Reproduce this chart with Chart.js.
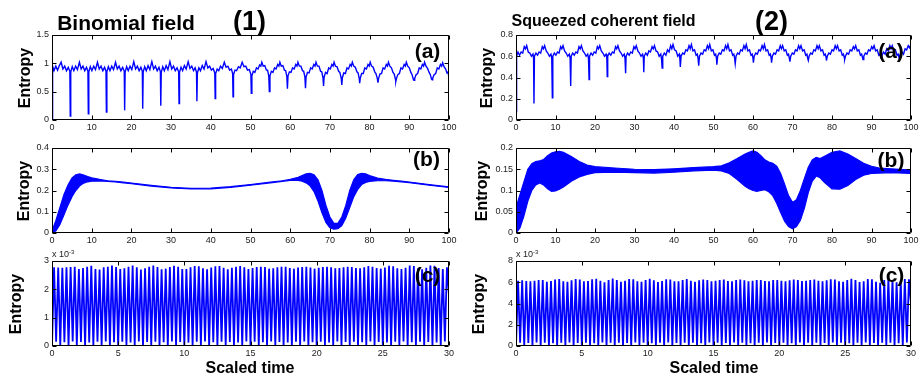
<!DOCTYPE html>
<html><head><meta charset="utf-8">
<script src="https://cdn.jsdelivr.net/npm/chart.js@4.4.1/dist/chart.umd.min.js"></script>
<style>
html,body{margin:0;padding:0;background:#fff;}
body{width:923px;height:380px;position:relative;overflow:hidden;font-family:'Liberation Sans',Arial,Helvetica,sans-serif;}
canvas{position:absolute;}
.t{position:absolute;font-weight:bold;color:#000;white-space:nowrap;line-height:1;transform:translate(-50%,-50%);}
.yl{position:absolute;font-weight:bold;font-size:16px;line-height:1;white-space:nowrap;transform:translate(-50%,-50%) rotate(-90deg);}
.ex{position:absolute;font-size:9px;color:#222;line-height:1;white-space:nowrap;}
.ex sup{font-size:6px;vertical-align:3px;}
</style></head><body>
<script>
// ---------- tick settings ----------
const ticksA1 = {xMax:100, xStep:10, yMax:1.5, yStep:0.5};
const ticksB1 = {xMax:100, xStep:10, yMax:0.4, yStep:0.1};
const ticksC1 = {xMax:30, xStep:5, yMax:3, yStep:1};
const ticksA2 = {xMax:100, xStep:10, yMax:0.8, yStep:0.2};
const ticksB2 = {xMax:100, xStep:10, yMax:0.2, yStep:0.05};
const ticksC2 = {xMax:30, xStep:5, yMax:8, yStep:2};

// ---------- (1a) Binomial field, entropy vs scaled time ----------
const binomA = [
[0,0],[0.15,0.95],[0.5,0.87],[0.95,0.95],[1.4,0.88],[1.85,0.96],[2.3,1.02],[2.75,0.9],[3.2,0.95],[3.65,0.87],[4.1,0.93],[4.5,0.86],
[4.6,0.07],[4.72,0.85],[5.1,0.94],[5.5,0.87],[5.95,0.95],[6.4,0.89],[6.9,1.02],[7.35,0.9],[7.8,0.95],[8.25,0.87],[8.7,0.93],[9.05,0.86],
[9.15,0.11],[9.27,0.85],[9.65,0.94],[10.05,0.87],[10.5,0.95],[10.95,0.89],[11.45,1.02],[11.9,0.9],[12.35,0.95],[12.8,0.87],[13.25,0.93],[13.6,0.86],
[13.7,0.14],[13.82,0.85],[14.2,0.94],[14.6,0.87],[15.05,0.95],[15.5,0.89],[16.0,1.02],[16.45,0.9],[16.9,0.95],[17.35,0.87],[17.8,0.93],[18.2,0.86],
[18.3,0.17],[18.42,0.85],[18.8,0.94],[19.2,0.87],[19.65,0.95],[20.1,0.89],[20.6,1.03],[21.05,0.9],[21.5,0.95],[21.95,0.87],[22.4,0.93],[22.75,0.86],
[22.85,0.2],[22.97,0.85],[23.35,0.94],[23.75,0.87],[24.2,0.96],[24.65,0.89],[25.15,1.03],[25.6,0.9],[26.05,0.95],[26.5,0.87],[26.95,0.93],[27.3,0.85],
[27.4,0.25],[27.52,0.84],[27.9,0.94],[28.3,0.87],[28.75,0.96],[29.2,0.89],[29.7,1.03],[30.15,0.9],[30.6,0.95],[31.05,0.87],[31.5,0.92],[31.9,0.85],
[32,0.29],[32.12,0.84],[32.5,0.93],[32.9,0.87],[33.35,0.96],[33.8,0.9],[34.3,1.03],[34.75,0.91],[35.2,0.95],[35.65,0.87],[36.05,0.92],[36.4,0.84],
[36.5,0.33],[36.62,0.83],[37,0.92],[37.4,0.87],[37.85,0.96],[38.3,0.9],[38.8,1.03],[39.25,0.92],[39.7,0.95],[40.15,0.88],[40.6,0.91],[41.0,0.83],
[41.1,0.38],[41.22,0.82],[41.6,0.9],[42,0.87],[42.45,0.95],[42.9,0.91],[43.4,1.02],[43.85,0.93],[44.3,0.95],[44.75,0.88],[45.2,0.9],[45.5,0.82],
[45.6,0.41],[45.72,0.8],[46.1,0.88],[46.5,0.87],[46.95,0.94],[47.4,0.92],[47.9,1.02],[48.35,0.94],[48.8,0.95],[49.25,0.88],[49.7,0.89],[50.1,0.8],
[50.2,0.47],[50.35,0.78],[50.7,0.86],[51.1,0.84],[51.5,0.92],[51.9,0.9],[52.3,0.97],[52.6,0.95],[52.85,1.02],[53.2,0.95],[53.6,0.96],[54,0.88],[54.3,0.88],[54.6,0.78],
[54.75,0.5],[54.9,0.78],[55.25,0.86],[55.65,0.84],[56.05,0.92],[56.45,0.9],[56.85,0.98],[57.15,0.95],[57.4,1.02],[57.75,0.95],[58.15,0.96],[58.55,0.88],[58.85,0.87],[59.15,0.77],
[59.3,0.55],[59.45,0.78],[59.8,0.85],[60.2,0.84],[60.6,0.92],[61,0.9],[61.4,0.98],[61.7,0.95],[61.95,1.02],[62.3,0.95],[62.7,0.95],[63.1,0.87],[63.4,0.86],[63.7,0.76],
[63.85,0.56],[64,0.76],[64.35,0.84],[64.75,0.83],[65.15,0.92],[65.55,0.9],[65.95,0.98],[66.25,0.95],[66.5,1.02],[66.85,0.95],[67.25,0.95],[67.65,0.86],[67.95,0.85],[68.25,0.75],
[68.4,0.6],[68.55,0.76],[68.9,0.84],[69.3,0.82],[69.7,0.92],[70.1,0.9],[70.5,0.98],[70.8,0.95],[71.05,1.02],[71.4,0.95],[71.8,0.94],[72.2,0.86],[72.5,0.84],[72.85,0.74],
[73,0.62],[73.15,0.75],[73.5,0.83],[73.9,0.82],[74.3,0.92],[74.7,0.9],[75.1,0.98],[75.4,0.95],[75.65,1.02],[76,0.95],[76.4,0.93],[76.8,0.85],[77.1,0.83],[77.4,0.73],
[77.5,0.65],[77.65,0.74],[78,0.82],[78.4,0.82],[78.8,0.92],[79.2,0.9],[79.6,0.98],[79.9,0.95],[80.15,1.02],[80.5,0.95],[80.9,0.93],[81.3,0.85],[81.6,0.82],[81.95,0.73],
[82.1,0.66],[82.25,0.73],[82.6,0.81],[83,0.82],[83.4,0.92],[83.8,0.9],[84.2,0.98],[84.5,0.95],[84.75,1.02],[85.1,0.95],[85.5,0.92],[85.9,0.84],[86.2,0.81],[86.5,0.72],
[86.6,0.68],[86.75,0.73],[87.1,0.8],[87.5,0.82],[87.9,0.92],[88.3,0.9],[88.7,0.98],[89,0.95],[89.25,1.02],[89.6,0.95],[90,0.92],[90.4,0.84],[90.7,0.8],[91.05,0.71],
[91.2,0.7],[91.35,0.73],[91.7,0.8],[92.1,0.82],[92.5,0.92],[92.9,0.9],[93.3,0.98],[93.6,0.95],[93.85,1.02],[94.2,0.95],[94.6,0.91],[95,0.84],[95.3,0.8],[95.6,0.72],
[95.75,0.71],[95.9,0.74],[96.25,0.8],[96.65,0.82],[97.05,0.92],[97.45,0.9],[97.85,0.98],[98.15,0.95],[98.4,1.01],[98.75,0.94],[99.15,0.9],[99.5,0.83],[99.8,0.85],[100,0.72]
];

// ---------- (1b) Binomial field, envelope of the fast oscillation ----------
const binomB_t     = [0,1,2,3,4,5,6,7,8,9,10,12,14,16,18,20,25,30,35,40,45,50,55,58,60,62,63,64,65,66,67,68,69,70,71,72,73,74,75,76,77,78,79,80,82,84,86,88,90,95,100];
const binomB_upper = [0.01,0.06,0.12,0.18,0.225,0.258,0.274,0.278,0.273,0.266,0.26,0.252,0.246,0.243,0.239,0.235,0.224,0.215,0.21,0.211,0.218,0.228,0.239,0.246,0.252,0.262,0.27,0.278,0.281,0.274,0.25,0.2,0.13,0.075,0.045,0.045,0.075,0.13,0.2,0.25,0.275,0.281,0.278,0.27,0.258,0.252,0.248,0.244,0.24,0.228,0.217];
const binomB_lower = [0,0.01,0.04,0.085,0.13,0.17,0.2,0.222,0.235,0.241,0.244,0.245,0.243,0.24,0.236,0.232,0.221,0.212,0.207,0.208,0.215,0.225,0.236,0.243,0.248,0.248,0.244,0.236,0.222,0.195,0.15,0.095,0.05,0.025,0.018,0.02,0.035,0.07,0.12,0.17,0.205,0.228,0.238,0.243,0.246,0.246,0.244,0.241,0.237,0.225,0.214];

// ---------- (1c) Binomial field, entropy (x 10^-3), 0..30 ----------
const binomC_peaks = [
2.78,2.77,2.76,2.78,2.79,2.80,2.72,2.75,2.80,2.83,2.72,2.70,
2.78,2.80,2.84,2.79,2.72,2.74,2.80,2.84,2.78,2.70,2.74,2.80,
2.84,2.79,2.71,2.73,2.79,2.83,2.80,2.72,2.72,2.78,2.82,2.81,
2.74,2.71,2.77,2.81,2.82,2.76,2.71,2.76,2.80,2.82,2.78,2.72,
2.75,2.79,2.80,2.79,2.73,2.74,2.78,2.80,2.80,2.75,2.73,2.77,
2.79,2.80,2.77,2.73,2.76,2.79,2.80,2.78,2.74,2.75,2.78,2.80,
2.79,2.75,2.74,2.78,2.82,2.80,2.75,2.73,2.77,2.83,2.81,2.74,
2.72,2.76,2.84,2.82,2.74,2.71,2.76,2.84,2.83,2.75,2.72,2.78];
const binomC_troughs = [
0.15,0.00,0.13,0.00,0.16,0.01,0.14,0.00,0.12,0.00,0.15,0.02,
0.16,0.00,0.13,0.00,0.15,0.01,0.12,0.00,0.16,0.00,0.14,0.01,
0.15,0.00,0.13,0.00,0.16,0.02,0.14,0.00,0.12,0.00,0.15,0.01,
0.16,0.00,0.13,0.00,0.15,0.01,0.14,0.00,0.12,0.00,0.16,0.01,
0.15,0.00,0.13,0.00,0.16,0.01,0.14,0.00,0.12,0.00,0.15,0.02,
0.16,0.00,0.13,0.00,0.15,0.01,0.12,0.00,0.16,0.00,0.14,0.01,
0.15,0.00,0.13,0.00,0.16,0.02,0.14,0.00,0.12,0.00,0.15,0.01,
0.16,0.00,0.13,0.00,0.15,0.01,0.14,0.00,0.12,0.00,0.16];
const binomC_start = 0, binomC_end = 1.8;

// ---------- (2a) Squeezed coherent field ----------
const squeezA = [
[0,0.08],[0.15,0.6],[0.5,0.64],[0.9,0.61],[1.3,0.64],[1.7,0.63],[2.1,0.69],[2.4,0.67],[2.7,0.7],[3.1,0.64],[3.5,0.63],[3.9,0.6],[4.3,0.62],[4.45,0.58],
[4.55,0.155],[4.67,0.6],[5.05,0.63],[5.45,0.61],[5.85,0.64],[6.25,0.63],[6.65,0.69],[6.95,0.67],[7.25,0.7],[7.65,0.65],[8.05,0.63],[8.45,0.6],[8.85,0.62],[9.05,0.58],
[9.2,0.21],[9.32,0.6],[9.7,0.63],[10.1,0.61],[10.5,0.64],[10.9,0.63],[11.3,0.69],[11.6,0.67],[11.9,0.7],[12.3,0.65],[12.7,0.63],[13.1,0.6],[13.5,0.62],[13.7,0.58],
[13.85,0.32],[13.97,0.6],[14.35,0.63],[14.75,0.61],[15.15,0.64],[15.55,0.63],[15.95,0.69],[16.25,0.67],[16.55,0.7],[16.95,0.65],[17.35,0.63],[17.75,0.6],[18.15,0.62],[18.35,0.58],
[18.5,0.38],[18.62,0.6],[19,0.63],[19.4,0.61],[19.8,0.64],[20.2,0.63],[20.6,0.69],[20.9,0.67],[21.2,0.7],[21.6,0.65],[22,0.63],[22.4,0.6],[22.8,0.62],[23,0.58],
[23.1,0.41],[23.22,0.6],[23.6,0.63],[24,0.61],[24.4,0.64],[24.8,0.63],[25.2,0.69],[25.5,0.67],[25.8,0.7],[26.2,0.65],[26.6,0.63],[27,0.6],[27.4,0.62],[27.6,0.58],
[27.75,0.44],[27.87,0.6],[28.25,0.63],[28.65,0.61],[29.05,0.64],[29.45,0.63],[29.85,0.69],[30.15,0.67],[30.45,0.7],[30.85,0.65],[31.25,0.63],[31.65,0.6],[32.05,0.62],[32.25,0.58],
[32.35,0.45],[32.47,0.6],[32.85,0.63],[33.25,0.61],[33.65,0.65],[34.05,0.64],[34.45,0.69],[34.75,0.67],[35.05,0.7],[35.45,0.65],[35.85,0.64],[36.25,0.6],[36.65,0.62],[36.85,0.57],
[37,0.49],[37.15,0.6],[37.55,0.63],[37.95,0.61],[38.35,0.66],[38.75,0.64],[39.15,0.7],[39.45,0.67],[39.75,0.71],[40.15,0.66],[40.55,0.65],[40.95,0.6],[41.35,0.62],[41.5,0.57],
[41.6,0.5],[41.8,0.6],[42.2,0.63],[42.6,0.62],[43,0.66],[43.4,0.65],[43.8,0.7],[44.1,0.67],[44.4,0.71],[44.8,0.65],[45.2,0.66],[45.6,0.61],[45.9,0.62],[46.1,0.58],
[46.25,0.51],[46.45,0.6],[46.85,0.63],[47.25,0.62],[47.65,0.66],[48.05,0.65],[48.45,0.7],[48.75,0.67],[49.05,0.71],[49.45,0.65],[49.85,0.66],[50.25,0.61],[50.55,0.62],[50.75,0.58],
[50.85,0.52],[51.05,0.6],[51.45,0.63],[51.85,0.62],[52.25,0.66],[52.65,0.65],[53.05,0.7],[53.35,0.67],[53.65,0.71],[54.05,0.65],[54.45,0.66],[54.85,0.61],[55.15,0.62],[55.35,0.58],
[55.5,0.53],[55.7,0.6],[56.1,0.63],[56.5,0.62],[56.9,0.66],[57.3,0.65],[57.7,0.7],[58,0.67],[58.3,0.71],[58.7,0.65],[59.1,0.66],[59.5,0.61],[59.8,0.62],[60,0.58],
[60.1,0.54],[60.3,0.6],[60.7,0.63],[61.1,0.62],[61.5,0.66],[61.9,0.65],[62.3,0.7],[62.6,0.67],[62.9,0.71],[63.3,0.65],[63.7,0.66],[64.1,0.61],[64.4,0.62],[64.6,0.58],
[64.7,0.54],[64.9,0.6],[65.3,0.63],[65.7,0.62],[66.1,0.66],[66.5,0.65],[66.9,0.7],[67.2,0.67],[67.5,0.7],[67.9,0.65],[68.3,0.66],[68.7,0.61],[69,0.62],[69.2,0.58],
[69.35,0.55],[69.55,0.6],[69.95,0.63],[70.35,0.62],[70.75,0.66],[71.15,0.65],[71.55,0.7],[71.85,0.67],[72.15,0.7],[72.55,0.65],[72.95,0.66],[73.35,0.61],[73.65,0.62],[73.85,0.58],
[74,0.56],[74.2,0.6],[74.6,0.63],[75,0.62],[75.4,0.66],[75.8,0.65],[76.2,0.7],[76.5,0.67],[76.8,0.7],[77.2,0.65],[77.6,0.66],[78,0.61],[78.3,0.62],[78.5,0.59],
[78.6,0.56],[78.8,0.6],[79.2,0.63],[79.6,0.62],[80,0.66],[80.4,0.65],[80.8,0.7],[81.1,0.67],[81.4,0.7],[81.8,0.65],[82.2,0.66],[82.6,0.61],[82.9,0.62],[83.1,0.59],
[83.2,0.57],[83.4,0.6],[83.8,0.63],[84.2,0.62],[84.6,0.66],[85,0.65],[85.4,0.69],[85.7,0.67],[86,0.7],[86.4,0.65],[86.8,0.66],[87.2,0.61],[87.5,0.62],[87.7,0.59],
[87.85,0.57],[88.05,0.6],[88.45,0.63],[88.85,0.62],[89.25,0.66],[89.65,0.65],[90.05,0.69],[90.35,0.67],[90.65,0.7],[91.05,0.65],[91.45,0.66],[91.85,0.61],[92.15,0.62],[92.35,0.59],
[92.45,0.58],[92.65,0.61],[93.05,0.64],[93.45,0.62],[93.85,0.67],[94.25,0.65],[94.65,0.7],[94.95,0.67],[95.25,0.7],[95.65,0.65],[96.05,0.66],[96.45,0.61],[96.75,0.62],[96.95,0.59],
[97.1,0.58],[97.3,0.61],[97.7,0.64],[98.1,0.62],[98.5,0.67],[98.9,0.66],[99.3,0.7],[99.6,0.68],[100,0.71]
];

// ---------- (2b) Squeezed coherent field, envelope ----------
const squeezB_t     = [0,1,2,3,4,5,6,7,8,9,10,11,12,14,16,18,20,25,30,35,40,45,50,52,54,56,58,59,60,61,62,63,64,65,66,67,68,69,70,71,72,73,74,75,76,77,78,80,82,84,86,88,90,92,95,100];
const squeezB_upper = [0.06,0.09,0.12,0.15,0.163,0.168,0.17,0.173,0.182,0.188,0.191,0.192,0.19,0.18,0.168,0.16,0.156,0.153,0.15,0.149,0.151,0.154,0.156,0.158,0.165,0.175,0.186,0.19,0.193,0.19,0.182,0.172,0.167,0.164,0.157,0.14,0.115,0.088,0.072,0.078,0.1,0.128,0.155,0.172,0.178,0.175,0.18,0.19,0.193,0.186,0.175,0.164,0.157,0.153,0.151,0.148];
const squeezB_lower = [0,0.012,0.04,0.075,0.1,0.113,0.118,0.113,0.104,0.098,0.099,0.103,0.108,0.122,0.132,0.138,0.142,0.143,0.142,0.141,0.143,0.146,0.148,0.146,0.14,0.126,0.11,0.104,0.1,0.098,0.1,0.102,0.097,0.088,0.07,0.048,0.028,0.015,0.01,0.015,0.03,0.058,0.095,0.122,0.134,0.13,0.12,0.104,0.103,0.112,0.126,0.136,0.14,0.141,0.142,0.14];

// ---------- (2c) Squeezed coherent field, entropy (x 10^-3) ----------
const squeezC_peaks = [
6.15,6.18,6.12,6.10,6.15,6.20,6.22,6.05,6.12,6.25,6.30,6.10,
6.05,6.18,6.30,6.25,6.08,6.12,6.28,6.32,6.15,6.00,6.20,6.35,
6.22,6.05,6.15,6.30,6.28,6.10,6.05,6.20,6.32,6.18,6.02,6.12,
6.28,6.25,6.08,6.10,6.22,6.30,6.15,6.05,6.18,6.25,6.20,6.10,
6.15,6.22,6.25,6.12,6.08,6.20,6.25,6.18,6.10,6.15,6.22,6.20,
6.12,6.10,6.20,6.22,6.15,6.10,6.18,6.25,6.20,6.12,6.15,6.22,
6.25,6.15,6.08,6.18,6.28,6.25,6.10,6.05,6.20,6.32,6.22,6.02,
6.10,6.30,6.28,6.05,5.95,6.22,6.35,6.20,6.00,6.12,6.30,6.28];
const squeezC_troughs = [
0.30,0.00,0.28,0.00,0.34,0.02,0.30,0.00,0.26,0.00,0.32,0.03,
0.34,0.00,0.28,0.00,0.32,0.02,0.26,0.00,0.34,0.00,0.30,0.02,
0.32,0.00,0.28,0.00,0.34,0.03,0.30,0.00,0.26,0.00,0.32,0.02,
0.34,0.00,0.28,0.00,0.32,0.02,0.30,0.00,0.26,0.00,0.34,0.02,
0.32,0.00,0.28,0.00,0.34,0.02,0.30,0.00,0.26,0.00,0.32,0.03,
0.34,0.00,0.28,0.00,0.32,0.02,0.26,0.00,0.34,0.00,0.30,0.02,
0.32,0.00,0.28,0.00,0.34,0.03,0.30,0.00,0.26,0.00,0.32,0.02,
0.34,0.00,0.28,0.00,0.32,0.02,0.30,0.00,0.26,0.00,0.34];
const squeezC_start = 0, squeezC_end = 4.0;
const cTimeMax = 30;

// ---------- helpers ----------
const BLUE = '#0000ff';
const FONT = "'Liberation Sans', Arial, Helvetica, sans-serif";
function zip(t, v) { return t.map((x, i) => [x, v[i]]); }
function zigzag(start, peaks, troughs, end) {
  const v = [start];
  peaks.forEach((p, i) => { v.push(p); if (i < troughs.length) v.push(troughs[i]); });
  v.push(end);
  const dt = cTimeMax / (v.length - 1);
  return v.map((y, i) => [i * dt, y]);
}
function fmt(v) { return String(Math.round(v * 10000) / 10000); }

const boxPlugin = {
  id: 'box',
  afterDatasetsDraw(chart) {
    const {ctx, chartArea: a, scales: {x, y}} = chart;
    ctx.save();
    ctx.strokeStyle = '#000'; ctx.lineWidth = 1;
    const l = Math.round(a.left) + 0.5, r = Math.round(a.right) - 0.5;
    const t = Math.round(a.top) + 0.5, b = Math.round(a.bottom) - 0.5;
    ctx.beginPath();
    ctx.rect(l, t, r - l, b - t);
    x.ticks.forEach(tk => {
      const p = Math.round(x.getPixelForValue(tk.value)) + 0.5;
      ctx.moveTo(p, b); ctx.lineTo(p, b - 4);
      ctx.moveTo(p, t); ctx.lineTo(p, t + 4);
    });
    y.ticks.forEach(tk => {
      const p = Math.round(y.getPixelForValue(tk.value)) + 0.5;
      ctx.moveTo(l, p); ctx.lineTo(l + 4, p);
      ctx.moveTo(r, p); ctx.lineTo(r - 4, p);
    });
    ctx.stroke();
    ctx.restore();
  }
};

function panel(L, T, W, H, tk, datasets) {
  const PL = 45, PT = 8, PR = 12, PB = 22;
  const c = document.createElement('canvas');
  c.width = W + PL + PR; c.height = H + PT + PB;
  c.style.left = (L - PL) + 'px'; c.style.top = (T - PT) + 'px';
  c.style.width = c.width + 'px'; c.style.height = c.height + 'px';
  document.body.appendChild(c);
  const tickFont = {family: FONT, size: 9};
  new Chart(c, {
    type: 'line',
    data: {datasets},
    options: {
      responsive: false, animation: false, devicePixelRatio: 1,
      layout: {padding: {left: 0, top: PT, right: PR, bottom: 0}},
      plugins: {legend: {display: false}, tooltip: {enabled: false}},
      elements: {point: {radius: 0}, line: {tension: 0, borderWidth: 1}},
      scales: {
        x: {type: 'linear', min: 0, max: tk.xMax,
            grid: {display: false, drawTicks: false}, border: {display: false},
            ticks: {stepSize: tk.xStep, autoSkip: false, maxRotation: 0, padding: 2, color: '#222', font: tickFont, callback: fmt},
            afterFit(s) { s.height = PB; s.paddingLeft = 0; s.paddingRight = 0; }},
        y: {type: 'linear', min: 0, max: tk.yMax,
            grid: {display: false, drawTicks: false}, border: {display: false},
            ticks: {stepSize: tk.yStep, autoSkip: false, padding: 3, color: '#222', font: tickFont, callback: fmt},
            afterFit(s) { s.width = PL; s.paddingTop = 0; s.paddingBottom = 0; }}
      }
    },
    plugins: [boxPlugin]
  });
}
function lineDs(data, w) { return {data, borderColor: BLUE, borderWidth: w, fill: false}; }
function bandDs(t, up, lo) {
  return [
    {data: zip(t, up), borderColor: BLUE, borderWidth: 1.2, fill: false},
    {data: zip(t, lo), borderColor: BLUE, borderWidth: 1.2, backgroundColor: BLUE, fill: '-1'}
  ];
}

// geometry
const LX = 52, RX = 516, LW = 397, RW = 395, PH = 85;
const ROWS = [35, 148, 261];

panel(LX, ROWS[0], LW, PH, ticksA1, [lineDs(binomA, 1.4)]);
panel(LX, ROWS[1], LW, PH, ticksB1, bandDs(binomB_t, binomB_upper, binomB_lower));
panel(LX, ROWS[2], LW, PH, ticksC1, [lineDs(zigzag(binomC_start, binomC_peaks, binomC_troughs, binomC_end), 1.8)]);
panel(RX, ROWS[0], RW, PH, ticksA2, [lineDs(squeezA, 1.4)]);
panel(RX, ROWS[1], RW, PH, ticksB2, bandDs(squeezB_t, squeezB_upper, squeezB_lower));
panel(RX, ROWS[2], RW, PH, ticksC2, [lineDs(zigzag(squeezC_start, squeezC_peaks, squeezC_troughs, squeezC_end), 1.8)]);
</script>
<div class="t" style="left:126px;top:21.5px;font-size:21px;">Binomial field</div>
<div class="t" style="left:249.5px;top:20.7px;font-size:27px;">(1)</div>
<div class="t" style="left:603.5px;top:20.5px;font-size:16px;">Squeezed coherent field</div>
<div class="t" style="left:771.5px;top:20.7px;font-size:27px;">(2)</div>
<div class="t" style="left:427.5px;top:49.8px;font-size:21px;">(a)</div>
<div class="t" style="left:891px;top:49.8px;font-size:21px;">(a)</div>
<div class="t" style="left:426.5px;top:158.2px;font-size:21px;">(b)</div>
<div class="t" style="left:891px;top:159.2px;font-size:21px;">(b)</div>
<div class="t" style="left:427.5px;top:274.2px;font-size:21px;">(c)</div>
<div class="t" style="left:891.5px;top:274.2px;font-size:21px;">(c)</div>
<div class="yl" style="left:24.5px;top:77.5px;">Entropy</div>
<div class="yl" style="left:24px;top:190.5px;">Entropy</div>
<div class="yl" style="left:15.5px;top:303.5px;">Entropy</div>
<div class="yl" style="left:487px;top:77.5px;">Entropy</div>
<div class="yl" style="left:482px;top:190.5px;">Entropy</div>
<div class="yl" style="left:478.5px;top:303.5px;">Entropy</div>
<div class="t" style="left:250px;top:367.5px;font-size:16px;">Scaled time</div>
<div class="t" style="left:714px;top:367.5px;font-size:16px;">Scaled time</div>
<div class="ex" style="left:52px;top:249px;">x 10<sup>-3</sup></div>
<div class="ex" style="left:516px;top:249px;">x 10<sup>-3</sup></div>
</body></html>
